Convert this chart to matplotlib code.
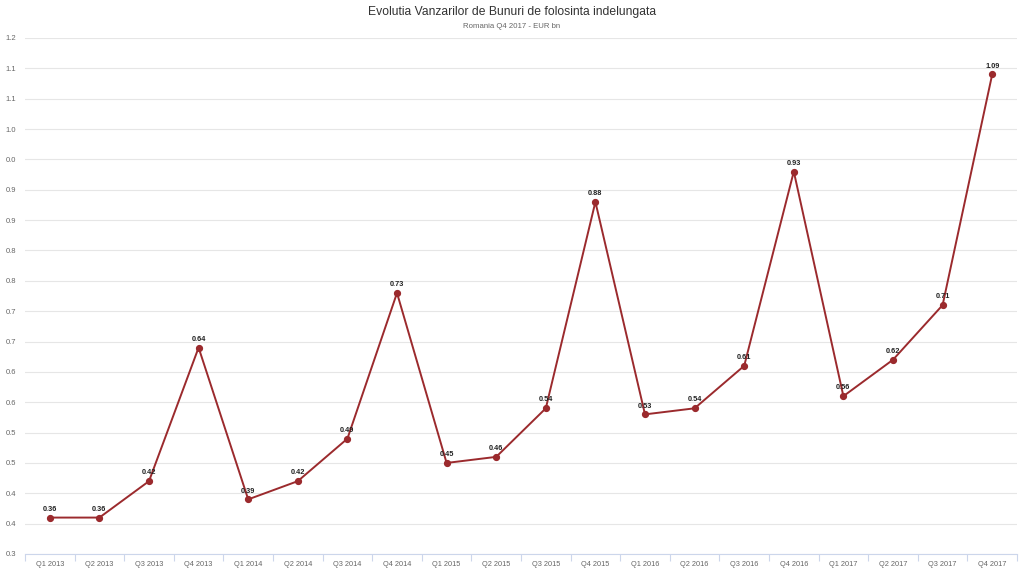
import matplotlib
matplotlib.use('Agg')
import matplotlib.pyplot as plt
import numpy as np

plt.rcParams['font.family'] = ['Liberation Sans', 'DejaVu Sans']

trimestre = ['Q1 2013', 'Q2 2013', 'Q3 2013', 'Q4 2013',
             'Q1 2014', 'Q2 2014', 'Q3 2014', 'Q4 2014',
             'Q1 2015', 'Q2 2015', 'Q3 2015', 'Q4 2015',
             'Q1 2016', 'Q2 2016', 'Q3 2016', 'Q4 2016',
             'Q1 2017', 'Q2 2017', 'Q3 2017', 'Q4 2017']
vanzari = [0.36, 0.36, 0.42, 0.64,
           0.39, 0.42, 0.49, 0.73,
           0.45, 0.46, 0.54, 0.88,
           0.53, 0.54, 0.61, 0.93,
           0.56, 0.62, 0.71, 1.09]

y_ticks = [0.30, 0.35, 0.40, 0.45, 0.50, 0.55, 0.60, 0.65, 0.70,
           0.75, 0.80, 0.85, 0.90, 0.95, 1.00, 1.05, 1.10, 1.15]
y_etichete = ['0.3', '0.4', '0.4', '0.5', '0.5', '0.6', '0.6', '0.7', '0.7',
              '0.8', '0.8', '0.9', '0.9', '0.0', '1.0', '1.1', '1.1', '1.2']

culoare = '#9b2a2d'

fig = plt.figure(figsize=(10.24, 5.76), dpi=100)
ax = fig.add_axes([25 / 1024, 22 / 576, 992 / 1024, 516 / 576])

x = np.arange(len(trimestre))
ax.plot(x, vanzari, color=culoare, linewidth=1.4, marker='o', markersize=4.2, zorder=3)

for xi, v in zip(x, vanzari):
    ax.annotate(f'{v:.2f}', (xi, v), xytext=(0, 3.5), textcoords='offset points',
                ha='center', va='bottom', fontsize=5.3, fontweight='bold', color='#222222', zorder=4)

ax.set_xlim(-0.5, len(trimestre) - 0.5)
ax.set_ylim(0.30, 1.15)

ax.set_yticks(y_ticks)
ax.set_yticklabels(y_etichete)
ax.set_xticks(x)
ax.set_xticklabels(trimestre)
ax.set_xticks(np.arange(len(trimestre) + 1) - 0.5, minor=True)

ax.tick_params(axis='y', length=0, pad=6.5, labelsize=5.5, labelcolor='#666666')
ax.tick_params(axis='x', which='major', length=0, pad=5, labelsize=5.3, labelcolor='#666666')
ax.tick_params(axis='x', which='minor', length=5, width=0.8, color='#ccd6eb')

ax.grid(axis='y', color='#e6e6e6', linewidth=0.8)
ax.set_axisbelow(True)
for s in ['top', 'right', 'left']:
    ax.spines[s].set_visible(False)
ax.spines['bottom'].set_color('#ccd6eb')
ax.spines['bottom'].set_linewidth(0.8)

fig.text(0.5, 1 - 12 / 576, 'Evolutia Vanzarilor de Bunuri de folosinta indelungata',
         ha='center', va='center', fontsize=8.7, color='#333333')
fig.text(0.5, 1 - 26 / 576, 'Romania Q4 2017 - EUR bn',
         ha='center', va='center', fontsize=5.6, color='#666666')

fig.savefig('out.png', dpi=100)
